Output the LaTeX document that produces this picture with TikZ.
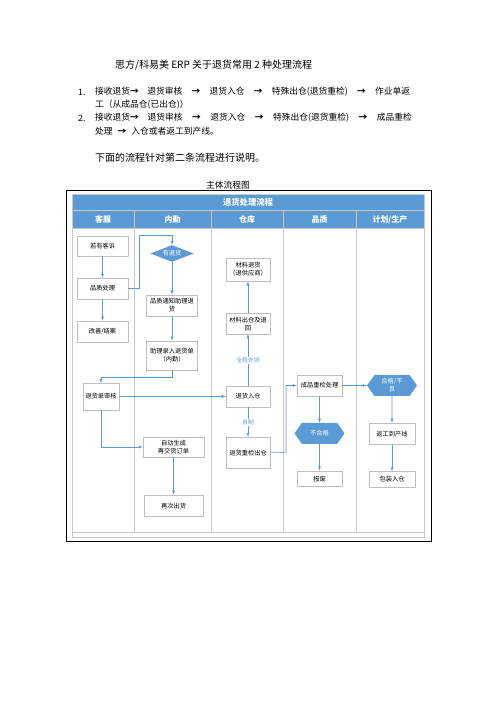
\documentclass[tikz,border=0pt]{standalone}
\usepackage{fontspec}
\setmainfont{Noto Sans CJK SC}
\usepackage{xcolor}
\usepackage{tikz}
\usetikzlibrary{positioning,shapes.geometric,shapes.symbols}
\definecolor{flowblue}{RGB}{91,155,213}
\definecolor{boxgray}{RGB}{191,191,191}
\definecolor{lanegray}{RGB}{200,200,200}
\newcommand{\arw}{\makebox[1em]{\bfseries →}}
\newcommand{\ra}{\hspace{4pt plus 10pt}\arw\hspace{4pt plus 10pt}}

\begin{document}
\begin{tikzpicture}[x=1.2pt, y=-1.2pt, >=latex,
  box/.style={draw=boxgray, fill=white, align=center, inner sep=1pt,
    font=\fontsize{7.5}{9.5}\selectfont, minimum width=61pt, minimum height=25pt},
  hexa/.style={signal, signal to=east and west, signal pointer angle=110,
    fill=flowblue, text=white, align=center, inner sep=1pt,
    font=\fontsize{7.5}{9.5}\selectfont, minimum width=60pt, minimum height=25pt},
  dia/.style={diamond, aspect=2.6, fill=flowblue, text=white, inner sep=0pt,
    font=\fontsize{7.5}{9}\selectfont, minimum width=52pt, minimum height=20pt},
  arr/.style={->, draw=flowblue, line width=0.7pt},
  lbl/.style={fill=white, text=flowblue, inner sep=1pt, font=\fontsize{7}{8}\selectfont},
  lanehead/.style={text=white, font=\bfseries\fontsize{9.5}{10}\selectfont},
  lane/.style={draw=lanegray, line width=1.1pt},
  para/.style={inner sep=0pt, anchor=west, font=\fontsize{12}{14}\selectfont},
  listline/.style={para, font=\fontsize{10.5}{12}\selectfont}]
  \useasboundingbox (0,0) rectangle (496,702);
  \fill[white] (0,0) rectangle (496,702);

  \node[para] (doctitle) at (115,65) {思方/科易美 ERP 关于退货常用 2 种处理流程};
  \node[listline] (num1) at (78,92) {1.};
  \node[listline] (item1a) at (95,92) {\makebox[378pt][s]{接收退货\arw\hspace{3pt plus 10pt}退货审核\ra 退货入仓\ra 特殊出仓(退货重检)\ra 作业单返}};
  \node[listline] (item1b) at (95,105) {工（从成品仓(已出仓)）};
  \node[listline] (num2) at (78,118) {2.};
  \node[listline] (item2a) at (95,118) {\makebox[380pt][s]{接收退货\arw\hspace{3pt plus 10pt}退货审核\ra 退货入仓\ra 特殊出仓(退货重检)\ra 成品重检}};
  \node[listline] (item2b) at (95,131) {处理\hspace{6pt}\arw\hspace{6pt}入仓或者返工到产线。};
  \node[para] (note) at (95,158) {下面的流程针对第二条流程进行说明。};
  \node[para, anchor=center, font=\fontsize{10.5}{12}\selectfont] (charttitle) at (228,185) {主体流程图};

  \draw[black, line width=0.8pt] (66,190) rectangle (431,541);
  \fill[flowblue] (72,194) rectangle (424,228);
  \draw[lane] (72,194) rectangle (424,537);
  \draw[lane] (72,210.5) -- (424,210.5);
  \draw[lane] (72,228) -- (424,228);
  \draw[lane] (72,532) -- (424,532);
  \draw[lane] (134,210.5) -- (134,532) (211,210.5) -- (211,532)
    (283,210.5) -- (283,532) (356,210.5) -- (356,532);

  \node[lanehead, font=\bfseries\fontsize{10}{11}\selectfont] (flowtitle) at (248,202) {退货处理流程};
  \node[lanehead] (hkefu) at (103,219.5) {客服};
  \node[lanehead] (hneiqin) at (172.5,219.5) {内勤};
  \node[lanehead] (hcangku) at (247,219.5) {仓库};
  \node[lanehead] (hpinzhi) at (319.5,219.5) {品质};
  \node[lanehead] (hjihua) at (390,219.5) {计划/生产};

  \node[box, minimum height=24pt] (kesu) at (102.5,246) {若有客诉};
  \node[box, below=26pt of kesu] (pzcl) {品质处理};
  \node[box, minimum height=26pt, below=26pt of pzcl] (gaishan) {改善/结案};
  \node[box, minimum width=43pt, minimum height=32pt] (shenhe) at (101,396.5) {退货单审核};

  \node[dia] (youth) at (172,253.5) {有退货};
  \node[box, minimum height=26pt, below=39pt of youth] (tongzhi) {品质通知助理退\\货};
  \node[box, minimum height=35pt, below=29pt of tongzhi] (luru) {助理录入退货单\\（内勤）};
  \node[box, minimum width=73pt, minimum height=24pt] (zidong) at (173.5,447) {自动生成\\再交货订单};
  \node[box, minimum width=70pt, minimum height=26pt, below=45pt of zidong] (chuhuo) {再次出货};

  \node[box, minimum width=53pt] (rucang) at (248,396.5) {退货入仓};
  \node[box, minimum width=53pt, above=62pt of rucang] (chucang) {材料出仓及退\\回};
  \node[box, minimum width=53pt, minimum height=28pt, above=38pt of chucang] (cailiao) {材料退货\\（退供应商）};
  \node[box, minimum width=53pt, minimum height=37pt, below=36pt of rucang] (chongjian) {退货重检出仓};

  \node[box, minimum width=54pt] (cpcj) at (319.5,385.5) {成品重检处理};
  \node[hexa, below=32pt of cpcj] (buhege) {不合格};
  \node[box, minimum width=54pt, minimum height=19pt, below=32pt of buhege] (baofei) {报废};
  \node[hexa] (hege) at (392,385.5) {合格/不\\良};
  \node[box, minimum width=55pt, minimum height=26pt, below=32pt of hege] (fangong) {返工到产线};
  \node[box, minimum width=55pt, minimum height=19pt, below=32pt of fangong] (baozhuang) {包装入仓};

  \coordinate (turn1) at (139,235);
  \coordinate (turn2) at (luru.south |- 0,377);
  \coordinate (turn3) at (286,452.3);
  \draw[arr] (kesu) -- (pzcl);
  \draw[arr] (pzcl) -- (gaishan);
  \draw[arr] (pzcl.east) -| (turn1) -| (youth.north);
  \draw[arr] (youth) -- (tongzhi);
  \draw[arr] (tongzhi) -- (luru);
  \draw[arr] (luru.south) -- (turn2) -| (shenhe.north);
  \draw[arr] (shenhe) -- (rucang);
  \draw[arr] (shenhe) |- (zidong);
  \draw[arr] (zidong) -- (chuhuo);
  \draw[arr] (rucang) -- node[lbl] (waixie) {全程外协} (chucang);
  \draw[arr] (chucang) -- (cailiao);
  \draw[arr] (rucang) -- node[lbl] (zizhi) {自制} (chongjian);
  \draw[arr] (chongjian) -- (turn3) |- (cpcj);
  \draw[arr] (cpcj) -- (hege);
  \draw[arr] (cpcj) -- (buhege);
  \draw[arr] (buhege) -- (baofei);
  \draw[arr] (hege) -- (fangong);
  \draw[arr] (fangong) -- (baozhuang);
\end{tikzpicture}
\end{document}
